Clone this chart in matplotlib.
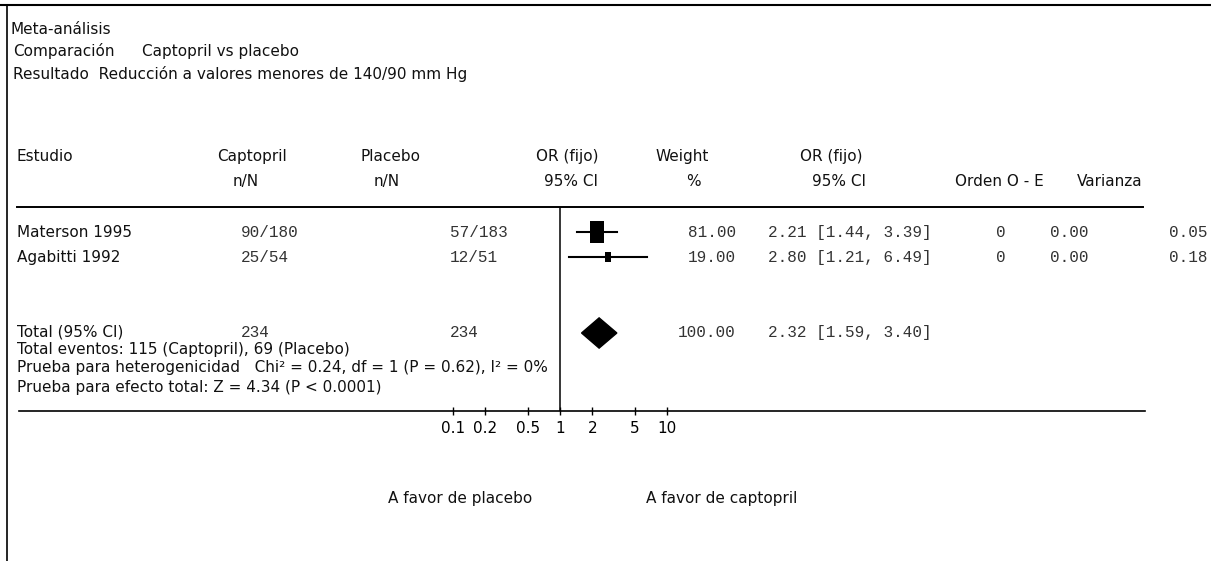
import matplotlib.pyplot as plt
from matplotlib.patches import Polygon

# Studies and their counts
studies = ["Materson 1995", "Agabitti 1992"]
capt_n = [90, 25]
capt_N = [180, 54]
plac_n = [57, 12]
plac_N = [183, 51]

# Per-study odds ratios (fixed effect) and weights
weights = [81.00, 19.00]
odds = [2.21, 2.80]
ci_low = [1.44, 1.21]
ci_high = [3.39, 6.49]
orden = [0, 0]
o_minus_e = [0.00, 0.00]
varianza = [0.05, 0.18]

# Pooled result
total_capt = 234
total_plac = 234
total_weight = 100.00
total_or = 2.32
total_low = 1.59
total_high = 3.40
events_capt = 115
events_plac = 69

tick_values = [0.1, 0.2, 0.5, 1, 2, 5, 10]
tick_labels = ["0.1", "0.2", "0.5", "1", "2", "5", "10"]

W, H = 1211, 561
SANS = "DejaVu Sans"
MONO = "Liberation Mono"
SANS_SIZE = 11
MONO_SIZE = 11.5

fig = plt.figure(figsize=(W / 100, H / 100), dpi=100)

# page axes in pixel units for the table text and rules
page = fig.add_axes([0, 0, 1, 1])
page.set_xlim(0, W)
page.set_ylim(H, 0)
page.axis("off")


def txt(x, y, s, ha="left", mono=False):
    page.text(x, y, s, ha=ha, va="center",
              family=MONO if mono else SANS,
              fontsize=MONO_SIZE if mono else SANS_SIZE,
              color="#333333" if mono else "#111111")


# frame rules
page.plot([0, W], [5, 5], color="black", lw=1.5)
page.plot([7, 7], [5, H], color="black", lw=1.2)
page.plot([17, 1143], [207, 207], color="black", lw=1.4)
page.plot([19, 1145], [411, 411], color="black", lw=1.2)

txt(10, 29, "Meta-análisis")
txt(13, 51, "Comparación")
txt(142, 51, "Captopril vs placebo")
txt(13, 74, "Resultado  Reducción a valores menores de 140/90 mm Hg")

# column headers
txt(17, 156, "Estudio")
txt(217, 156, "Captopril")
txt(233, 181, "n/N")
txt(360, 156, "Placebo")
txt(374, 181, "n/N")
txt(598, 156, "OR (fijo)", ha="right")
txt(598, 181, "95% CI", ha="right")
txt(655, 156, "Weight")
txt(686, 181, "%")
txt(800, 156, "OR (fijo)")
txt(812, 181, "95% CI")
txt(955, 181, "Orden O - E")
txt(1077, 181, "Varianza")

row_y = [232, 257]
for i, name in enumerate(studies):
    y = row_y[i]
    txt(17, y, name)
    txt(241, y, f"{capt_n[i]}/{capt_N[i]}", mono=True)
    txt(450, y, f"{plac_n[i]}/{plac_N[i]}", mono=True)
    txt(736, y, f"{weights[i]:.2f}", ha="right", mono=True)
    txt(768, y, f"{odds[i]:.2f} [{ci_low[i]:.2f}, {ci_high[i]:.2f}]", mono=True)
    txt(1001, y, f"{orden[i]}", ha="center", mono=True)
    txt(1050, y, f"{o_minus_e[i]:.2f}", mono=True)
    txt(1208, y, f"{varianza[i]:.2f}", ha="right", mono=True)

txt(17, 332, "Total (95% CI)")
txt(241, 332, f"{total_capt}", mono=True)
txt(450, 332, f"{total_plac}", mono=True)
txt(736, 332, f"{total_weight:.2f}", ha="right", mono=True)
txt(768, 332, f"{total_or:.2f} [{total_low:.2f}, {total_high:.2f}]", mono=True)
txt(17, 349, f"Total eventos: {events_capt} (Captopril), {events_plac} (Placebo)")
txt(17, 367, "Prueba para heterogenicidad   Chi² = 0.24, df = 1 (P = 0.62), I² = 0%")
txt(17, 387, "Prueba para efecto total: Z = 4.34 (P < 0.0001)")

txt(388, 498, "A favor de placebo")
txt(646, 498, "A favor de captopril")

# forest panel on a log scale: 1 sits at x=560, 107 px per decade
x0, x1 = 440, 700
y0, y1 = 207, 411
forest = fig.add_axes([x0 / W, 1 - y1 / H, (x1 - x0) / W, (y1 - y0) / H])
forest.set_xscale("log")
forest.set_xlim(10 ** ((x0 - 560) / 107), 10 ** ((x1 - 560) / 107))
row_px = 25.2
top_row = -1
forest.set_ylim(top_row + (y1 - y0) / row_px, top_row)
forest.patch.set_alpha(0)
for s in forest.spines.values():
    s.set_visible(False)

forest.axvline(1, color="black", lw=1.1)

# boxes a little taller than wide, area following the weight
box = [(-0.62, -1), (0.62, -1), (0.62, 1), (-0.62, 1), (-0.62, -1)]
for i in range(len(studies)):
    forest.plot([ci_low[i], ci_high[i]], [i, i], color="black", lw=1.5)
    forest.plot(odds[i], i, marker=box, color="black", markeredgewidth=0,
                markersize=17 * (weights[i] / 100) ** 0.5)

ty = 4
diamond = Polygon([(total_low, ty), (total_or, ty - 0.6),
                   (total_high, ty), (total_or, ty + 0.6)],
                  closed=True, color="black")
forest.add_patch(diamond)

forest.set_xticks(tick_values)
forest.set_xticklabels(tick_labels, family=SANS, fontsize=SANS_SIZE)
forest.minorticks_off()
forest.tick_params(axis="x", direction="inout", length=6, width=1, pad=4)
forest.set_yticks([])

fig.savefig("out.png", dpi=100)
